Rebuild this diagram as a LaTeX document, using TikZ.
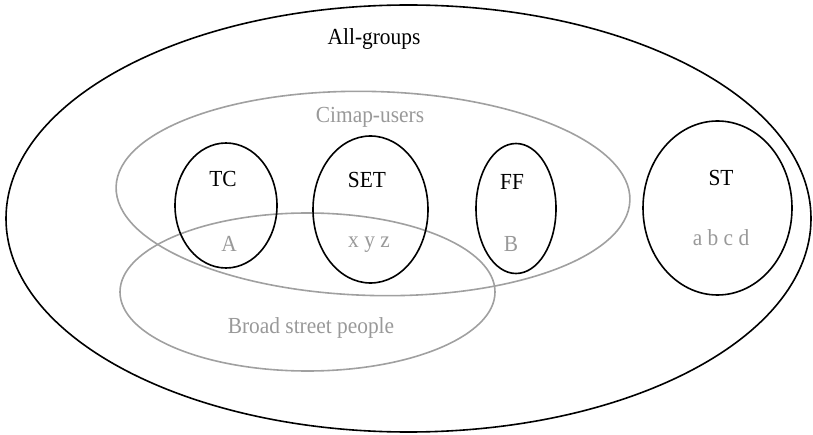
\documentclass[tikz,border=0pt]{standalone}
\usepackage{fontspec}
\setmainfont{Liberation Serif}
\usetikzlibrary{shapes.geometric}
\definecolor{lgray}{HTML}{A0A0A0}
\definecolor{tgray}{HTML}{999999}
\newcommand{\sq}[1]{\scalebox{0.93}[1]{#1}}
\tikzset{
  set/.style={draw=black, line width=1.6pt, ellipse, inner sep=0pt},
  gset/.style={draw=lgray, line width=1.6pt, ellipse, inner sep=0pt},
  blab/.style={text=black, font=\fontsize{23}{25}\selectfont, inner sep=0pt},
  glab/.style={text=tgray, font=\fontsize{23}{25}\selectfont, inner sep=0pt}
}
\begin{document}
\begin{tikzpicture}[x=1pt,y=-1pt]
\useasboundingbox (0,0) rectangle (813,435);
\node[set, minimum width=805pt, minimum height=427pt] (all) at (408.5,218.5) {};
\node[gset, minimum width=514pt, minimum height=204pt, rotate=-1.5] (cimap) at (373,193.5) {};
\node[gset, minimum width=375pt, minimum height=158pt] (broad) at (307.5,292) {};
\node[set, minimum width=102pt, minimum height=125pt] (tc) at (226,205.5) {};
\node[set, minimum width=115pt, minimum height=147pt] (set) at (370.5,209.5) {};
\node[set, minimum width=80pt, minimum height=130pt] (ff) at (516,208.5) {};
\node[set, minimum width=149pt, minimum height=174pt] (st) at (717.5,208) {};
\node[blab] (lall) at (374,39) {\sq{All-groups}};
\node[glab] (lcimap) at (370,117) {\sq{Cimap-users}};
\node[blab] (ltc) at (223,179) {\sq{TC}};
\node[blab] (lset) at (367,179.5) {\sq{SET}};
\node[blab] (lff) at (512,182) {\sq{FF}};
\node[blab] (lst) at (721,178) {\sq{ST}};
\node[glab] (la) at (229,244) {\sq{A}};
\node[glab] (lxyz) at (369,245) {\sq{x y z}};
\node[glab] (lb) at (511,244) {\sq{B}};
\node[glab] (labcd) at (721,238) {\sq{a b c d}};
\node[glab] (lbroad) at (311,327.5) {\sq{Broad street people}};
\end{tikzpicture}
\end{document}
